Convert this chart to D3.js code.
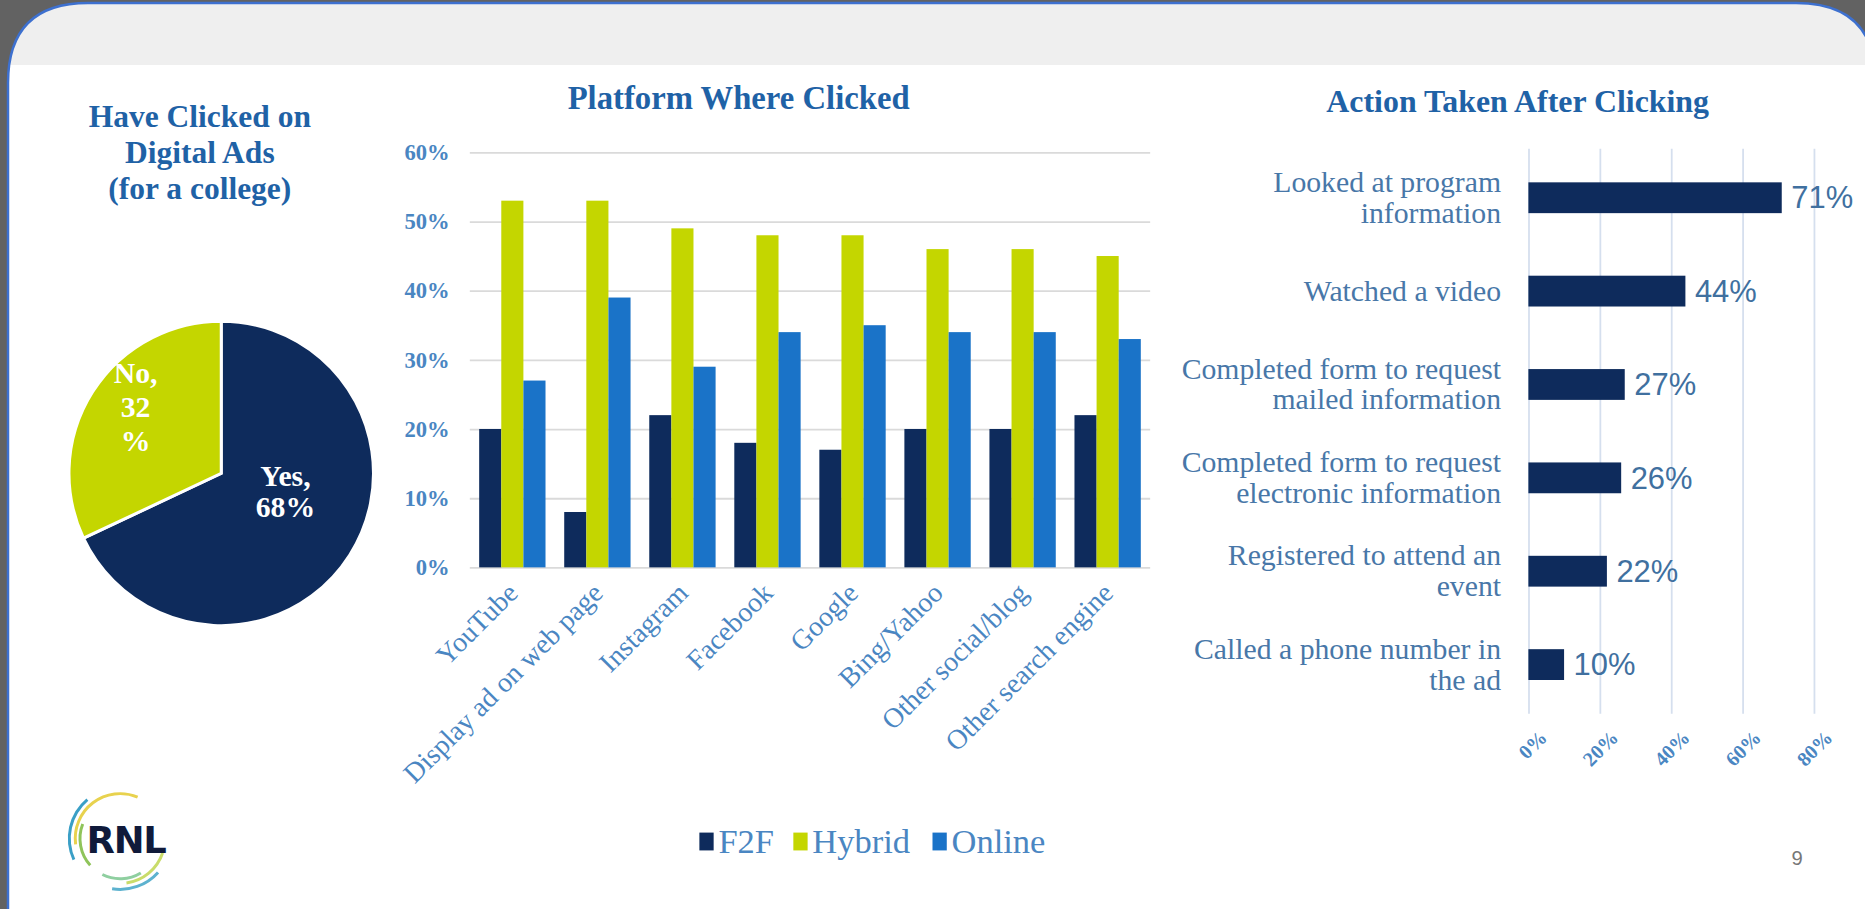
<!DOCTYPE html>
<html>
<head>
<meta charset="utf-8">
<script src="https://cdn.jsdelivr.net/npm/d3@7"></script>
<style>
  html, body { margin: 0; padding: 0; background: #626262; overflow: hidden; }
  svg { display: block; }
</style>
</head>
<body>
<svg id="slide" width="1865" height="909"></svg>
<script>
// data
const pieLabels = ["Yes", "No"];
const pieValues = [68, 32];

const platforms = ["YouTube", "Display ad on web page", "Instagram", "Facebook", "Google", "Bing/Yahoo", "Other social/blog", "Other search engine"];
const seriesNames = ["F2F", "Hybrid", "Online"];
const f2f = [20, 8, 22, 18, 17, 20, 20, 22];
const hybrid = [53, 53, 49, 48, 48, 46, 46, 45];
const online = [27, 39, 29, 34, 35, 34, 34, 33];
const platformTicks = [0, 10, 20, 30, 40, 50, 60];

const actions = [
    ["Looked at program", "information"],
    ["Watched a video"],
    ["Completed form to request", "mailed information"],
    ["Completed form to request", "electronic information"],
    ["Registered to attend an", "event"],
    ["Called a phone number in", "the ad"]
];
const actionValues = [71, 44, 27, 26, 22, 10];
const actionTicks = [0, 20, 40, 60, 80];

// colours
const navy = "#0e2b5c";
const lime = "#c4d600";
const blue = "#1a73c8";
const titleBlue = "#1f62a6";
const labelBlue = "#4a86c2";
const serif = "'Liberation Serif', 'DejaVu Serif', serif";

const svg = d3.select("#slide");

// 幻灯片外框 (真实像素)
const L = 8, T = 3, R = 1876, B = 960, r1 = 80, r2 = 80;
const framePath = `M${L},${B} L${L},${T + r1} Q${L},${T} ${L + r1},${T} L${R - r2},${T} Q${R},${T} ${R},${T + r2} L${R},${B} Z`;
svg.append("clipPath").attr("id", "clip").append("path").attr("d", framePath);
svg.append("path").attr("d", framePath).attr("fill", "#ffffff");
svg.append("rect")
    .attr("x", 0).attr("y", 0).attr("width", 1865).attr("height", 65)
    .attr("fill", "#efefef")
    .attr("clip-path", "url(#clip)");
svg.append("path").attr("d", framePath)
    .attr("fill", "none").attr("stroke", "#3d70cf").attr("stroke-width", 2.5);

// 内容按 1568 宽的版面布局，再放大到 1865
const root = svg.append("g").attr("transform", `scale(${1865 / 1568})`);

// 多行文字
function multiText(g, lines, x, y, lh) {
    const t = g.append("text").attr("x", x).attr("y", y);
    lines.forEach((s, i) => t.append("tspan").attr("x", x).attr("dy", i === 0 ? 0 : lh).text(s));
    return t;
}

// ---------- 饼图 ----------
const gPie = root.append("g");
multiText(gPie, ["Have Clicked on", "Digital Ads", "(for a college)"], 168, 107, 30)
    .attr("text-anchor", "middle").attr("font-family", serif).attr("font-weight", "bold")
    .attr("font-size", 26.5).attr("fill", titleBlue);

const pie = d3.pie().sort(null).value(d => d);
const arc = d3.arc().innerRadius(0).outerRadius(128);
const pieG = gPie.append("g").attr("transform", "translate(186,398)");
pieG.selectAll("path")
    .data(pie(pieValues))
    .enter()
    .append("path")
    .attr("d", arc)
    .attr("fill", (d, i) => i === 0 ? navy : lime)
    .attr("stroke", "#ffffff")
    .attr("stroke-width", 2.5);

multiText(gPie, [pieLabels[1] + ",", "" + pieValues[1], "%"], 114, 322, 28.5)
    .attr("text-anchor", "middle").attr("font-family", serif).attr("font-weight", "bold")
    .attr("font-size", 25).attr("fill", "#ffffff");
multiText(gPie, [pieLabels[0] + ",", pieValues[0] + "%"], 240, 409, 26)
    .attr("text-anchor", "middle").attr("font-family", serif).attr("font-weight", "bold")
    .attr("font-size", 25).attr("fill", "#ffffff");

// ---------- 柱状图 ----------
const gBar = root.append("g");
gBar.append("text")
    .attr("x", 621).attr("y", 92).attr("text-anchor", "middle")
    .attr("font-family", serif).attr("font-weight", "bold").attr("font-size", 27.5)
    .attr("fill", titleBlue).text("Platform Where Clicked");

const x0 = d3.scaleBand().domain(platforms).range([395, 967]).paddingInner(0.22).paddingOuter(0.11);
const x1 = d3.scaleBand().domain(seriesNames).range([0, x0.bandwidth()]);
const y = d3.scaleLinear().domain([0, 60]).range([477, 128]);
const color = d3.scaleOrdinal().domain(seriesNames).range([navy, lime, blue]);

gBar.append("g")
    .attr("transform", "translate(395,0)")
    .call(d3.axisLeft(y).tickValues(platformTicks).tickSize(-572).tickFormat(d => d + "%"))
    .call(g => g.select(".domain").remove())
    .call(g => g.selectAll("line").attr("stroke", "#dadada").attr("stroke-width", 1.5))
    .call(g => g.selectAll("text")
        .attr("x", -17).attr("font-family", serif).attr("font-weight", "bold")
        .attr("font-size", 19).attr("fill", labelBlue));

const seriesData = [f2f, hybrid, online];
const groups = gBar.append("g").selectAll("g")
    .data(platforms)
    .enter()
    .append("g")
    .attr("transform", d => `translate(${x0(d)},0)`);
groups.selectAll("rect")
    .data((d, i) => seriesNames.map((s, k) => ({ s, v: seriesData[k][i] })))
    .enter()
    .append("rect")
    .attr("x", d => x1(d.s))
    .attr("width", x1.bandwidth())
    .attr("y", d => y(d.v))
    .attr("height", d => y(0) - y(d.v))
    .attr("fill", d => color(d.s));

gBar.append("g").selectAll("text")
    .data(platforms)
    .enter()
    .append("text")
    .attr("transform", d => `translate(${x0(d) + x0.bandwidth() / 2 + 6},500) rotate(-45)`)
    .attr("text-anchor", "end")
    .attr("font-family", serif).attr("font-size", 23.5)
    .attr("fill", labelBlue)
    .text(d => d);

// 图例
const legendX = [588, 667, 784];
const lg = gBar.append("g").selectAll("g")
    .data(seriesNames)
    .enter()
    .append("g")
    .attr("transform", (d, i) => `translate(${legendX[i]},700)`);
lg.append("rect").attr("width", 12).attr("height", 15).attr("fill", d => color(d));
lg.append("text").attr("x", 16).attr("y", 17)
    .attr("font-family", serif).attr("font-size", 29).attr("fill", labelBlue)
    .text(d => d);

// ---------- 横向条形图 ----------
const gAct = root.append("g");
gAct.append("text")
    .attr("x", 1276).attr("y", 94).attr("text-anchor", "middle")
    .attr("font-family", serif).attr("font-weight", "bold").attr("font-size", 26.8)
    .attr("fill", titleBlue).text("Action Taken After Clicking");

const xa = d3.scaleLinear().domain([0, 80]).range([1285, 1525]);
const ya = d3.scaleBand().domain(d3.range(actions.length)).range([127, 598]).paddingInner(0.67).paddingOuter(0.335);

gAct.append("g")
    .attr("transform", "translate(0,600)")
    .call(d3.axisBottom(xa).tickValues(actionTicks).tickSize(-475).tickFormat(d => d + "%"))
    .call(g => g.select(".domain").remove())
    .call(g => g.selectAll("line").attr("stroke", "#d5dfee").attr("stroke-width", 1.5))
    .call(g => g.selectAll("text")
        .attr("text-anchor", "end")
        .attr("transform", "translate(12,17) rotate(-45)")
        .attr("y", 0).attr("dy", "0.35em")
        .attr("font-family", serif).attr("font-weight", "bold")
        .attr("font-size", 17).attr("fill", labelBlue));

gAct.append("g").selectAll("rect")
    .data(actionValues)
    .enter()
    .append("rect")
    .attr("x", xa(0))
    .attr("y", (d, i) => ya(i))
    .attr("width", d => xa(d) - xa(0))
    .attr("height", ya.bandwidth())
    .attr("fill", navy);

gAct.append("g").selectAll("text")
    .data(actionValues)
    .enter()
    .append("text")
    .attr("x", d => xa(d) + 8)
    .attr("y", (d, i) => ya(i) + ya.bandwidth() / 2 + 9)
    .attr("font-family", "'Liberation Sans', sans-serif").attr("font-size", 26)
    .attr("fill", "#40709f")
    .text(d => d + "%");

actions.forEach((lines, i) => {
    const cy = ya(i) + ya.bandwidth() / 2;
    const y0 = cy - (lines.length - 1) * 13 + 8;
    multiText(gAct, lines, 1262, y0, 26)
        .attr("text-anchor", "end").attr("font-family", serif).attr("font-size", 25)
        .attr("fill", "#4877a8");
});

// ---------- 标志和页码 ----------
const logo = root.append("g").attr("transform", "translate(101,705)");
const logoArcs = [
    { r: 44, a0: -2.0, a1: -0.7, c: "#3a9fc6" },
    { r: 39, a0: -1.7, a1: 0.4, c: "#e8d24e" },
    { r: 35, a0: -2.3, a1: -1.2, c: "#8fc45a" },
    { r: 44, a0: 2.3, a1: 3.3, c: "#5db2cf" },
    { r: 39, a0: 1.9, a1: 3.0, c: "#c9dc6a" },
    { r: 35, a0: 2.6, a1: 3.6, c: "#8fcfa0" }
];
logo.selectAll("path")
    .data(logoArcs)
    .enter()
    .append("path")
    .attr("d", d => d3.arc()({ innerRadius: d.r - 2.5, outerRadius: d.r, startAngle: d.a0, endAngle: d.a1 }))
    .attr("fill", d => d.c);
logo.append("text")
    .attr("x", 5).attr("y", 12).attr("text-anchor", "middle")
    .attr("font-family", "'DejaVu Sans', sans-serif").attr("font-weight", "bold")
    .attr("font-size", 31).attr("letter-spacing", -1).attr("fill", "#101a3a")
    .text("RNL");

root.append("text")
    .attr("x", 1511).attr("y", 727).attr("text-anchor", "middle")
    .attr("font-family", "'Liberation Sans', sans-serif").attr("font-size", 17)
    .attr("fill", "#777777").text("9");
</script>
</body>
</html>
